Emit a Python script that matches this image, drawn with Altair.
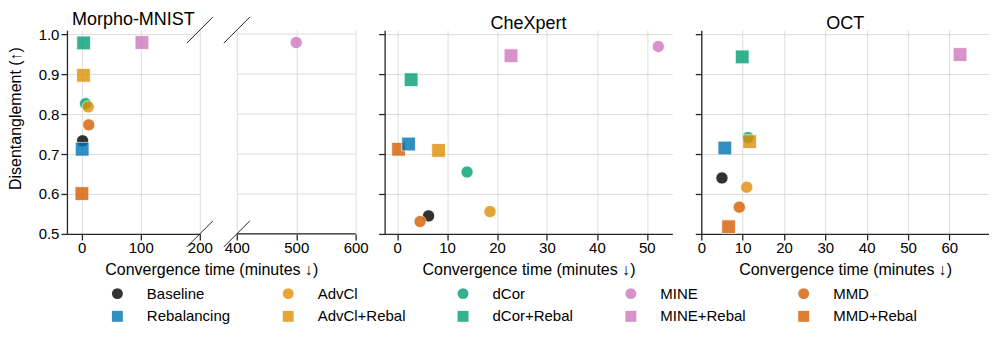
import altair as alt
import pandas as pd

# ---------------- data ----------------
methods = ["Baseline", "AdvCl", "dCor", "MINE", "MMD",
           "Rebalancing", "AdvCl+Rebal", "dCor+Rebal", "MINE+Rebal", "MMD+Rebal"]
colors = ["#000000", "#de8f05", "#029e73", "#cc78bc", "#d55e00",
          "#0173b2", "#de8f05", "#029e73", "#cc78bc", "#d55e00"]
shapes = ["circle"] * 5 + ["square"] * 5
draw_order = ["Baseline", "dCor", "AdvCl", "MINE", "MMD",
              "MMD+Rebal", "MINE+Rebal", "dCor+Rebal", "AdvCl+Rebal", "Rebalancing"]

mnist_time = [1.5, 11, 6.5, 500, 12, 0.8, 3, 3.3, 102, 0.3]
mnist_score = [0.733, 0.818, 0.826, 0.979, 0.773, 0.712, 0.897, 0.978, 0.979, 0.601]
chex_time = [6.3, 18.6, 14.0, 52.3, 4.6, 2.3, 8.3, 2.8, 22.8, 0.3]
chex_score = [0.545, 0.556, 0.655, 0.969, 0.531, 0.725, 0.709, 0.886, 0.946, 0.712]
oct_time = [5.0, 11.0, 11.3, None, 9.2, 5.7, 11.7, 9.9, 62.6, 6.6]
oct_score = [0.640, 0.617, 0.741, None, 0.567, 0.715, 0.731, 0.943, 0.949, 0.518]

y_ticks = [0.5, 0.6, 0.7, 0.8, 0.9, 1.0]
mnist_left_ticks = [0, 100, 200]
mnist_right_ticks = [400, 500, 600]
chex_ticks = [0, 10, 20, 30, 40, 50]
oct_ticks = [0, 10, 20, 30, 40, 50, 60]


def frame(times, scores):
    rows = []
    for m in draw_order:
        i = methods.index(m)
        if times[i] is None:
            continue
        rows.append({"method": m, "time": times[i], "score": scores[i]})
    return pd.DataFrame(rows)


df_mnist = frame(mnist_time, mnist_score)
df_chex = frame(chex_time, chex_score)
df_oct = frame(oct_time, oct_score)

# ---------------- style ----------------
FONT = "Liberation Sans"
AX = "#262626"
GRID = "#dddddd"
H = 204
YDOM = [0.5, 1.01]
XTITLE = "Convergence time (minutes ↓)"

legend = alt.Legend(
    title=None, orient="none", legendX=43, legendY=256, columns=5,
    direction="horizontal", symbolSize=120, symbolStrokeWidth=0,
    symbolOpacity=0.8, labelFontSize=15, labelFont=FONT, labelColor="black",
    labelOffset=22, columnPadding=50, rowPadding=7, padding=0,
)
color = alt.Color("method:N", scale=alt.Scale(domain=methods, range=colors), legend=legend)
shape = alt.Shape("method:N", scale=alt.Scale(domain=methods, range=shapes), legend=legend)
size = alt.SizeValue(150, condition={"test": "indexof(datum.method, 'Rebal') >= 0", "value": 190})

one = alt.Data(values=[{"k": 0}])


def pts(df, xscale, xaxis, yaxis):
    return alt.Chart(df).mark_point(
        filled=True, opacity=0.8, stroke="white", strokeWidth=0.8
    ).encode(
        x=alt.X("time:Q", scale=xscale, axis=xaxis),
        y=alt.Y("score:Q", scale=alt.Scale(domain=YDOM, nice=False, zero=False), axis=yaxis),
        color=color, shape=shape, size=size,
    )


def brk(xv, yv):
    return alt.Chart(one).mark_rule(
        color=AX, strokeWidth=1, xOffset=-13, x2Offset=13, yOffset=13, y2Offset=-13
    ).encode(x=alt.datum(xv), x2=alt.datum(xv), y=alt.datum(yv), y2=alt.datum(yv))


# Panel 1 left part
p1a_pts = pts(
    df_mnist[df_mnist["time"] <= 200],
    alt.Scale(domain=[-25, 200], nice=False, zero=False),
    alt.Axis(values=mnist_left_ticks, title=XTITLE, titleX=144.5, titleY=28),
    alt.Axis(values=y_ticks, format=".1f", title="Disentanglement (↑)", titleX=-43, titleY=88),
)
p1a = alt.layer(p1a_pts, brk(200, 1.01), brk(200, 0.5)).properties(
    width=133, height=H, title=alt.TitleParams("Morpho-MNIST", offset=-12)
)

# Panel 1 right part
p1b_grid = alt.Chart(pd.DataFrame({"g": y_ticks})).mark_rule(color=GRID, strokeWidth=1).encode(
    y=alt.Y("g:Q", axis=None), x=alt.datum(400), x2=alt.datum(600)
)
p1b_pts = pts(
    df_mnist[df_mnist["time"] >= 400],
    alt.Scale(domain=[386.5, 600], nice=False, zero=False),
    alt.Axis(values=mnist_right_ticks, title=None, domain=False),
    None,
)
p1b_base = alt.Chart(one).mark_rule(color=AX, strokeWidth=1.3).encode(
    x=alt.datum(400), x2=alt.datum(600), y=alt.datum(0.5)
)
p1b = alt.layer(p1b_grid, p1b_pts, p1b_base, brk(400, 1.01), brk(400, 0.5)).properties(
    width=127, height=H
)

# Panel 2
p2 = pts(
    df_chex,
    alt.Scale(domain=[-2.5, 55.1], nice=False, zero=False),
    alt.Axis(values=chex_ticks, title=XTITLE, titleX=144, titleY=28),
    alt.Axis(values=y_ticks, labels=False, title=None),
).properties(width=288, height=H, title="CheXpert")

# Panel 3
p3 = pts(
    df_oct,
    alt.Scale(domain=[0, 69.6], nice=False, zero=False),
    alt.Axis(values=oct_ticks, title=XTITLE, titleX=144, titleY=28),
    alt.Axis(values=y_ticks, labels=False, title=None),
).properties(width=288, height=H, title="OCT")

chart = alt.hconcat(p1a, p1b, p2, p3, spacing=29, bounds="flush").resolve_scale(
    color="shared", shape="shared"
).properties(
    padding={"left": 0, "top": 2, "right": 0, "bottom": 0}
).configure_view(stroke=None).configure_axis(
    labelFont=FONT, titleFont=FONT, labelFontSize=15, titleFontSize=16,
    labelColor="black", titleColor="black", titleFontWeight="normal",
    domainColor=AX, domainWidth=1.3, tickColor=AX, tickWidth=1.3, tickSize=6,
    gridColor=GRID, gridWidth=1, labelFlush=False, grid=True,
).configure_axisX(labelPadding=1).configure_axisY(labelPadding=2).configure_title(
    font=FONT, fontSize=18, fontWeight="normal", color="black", anchor="middle",
    frame="group", baseline="alphabetic", offset=-3,
)

chart.save("out.html", embed_options={"renderer": "svg", "actions": False})
